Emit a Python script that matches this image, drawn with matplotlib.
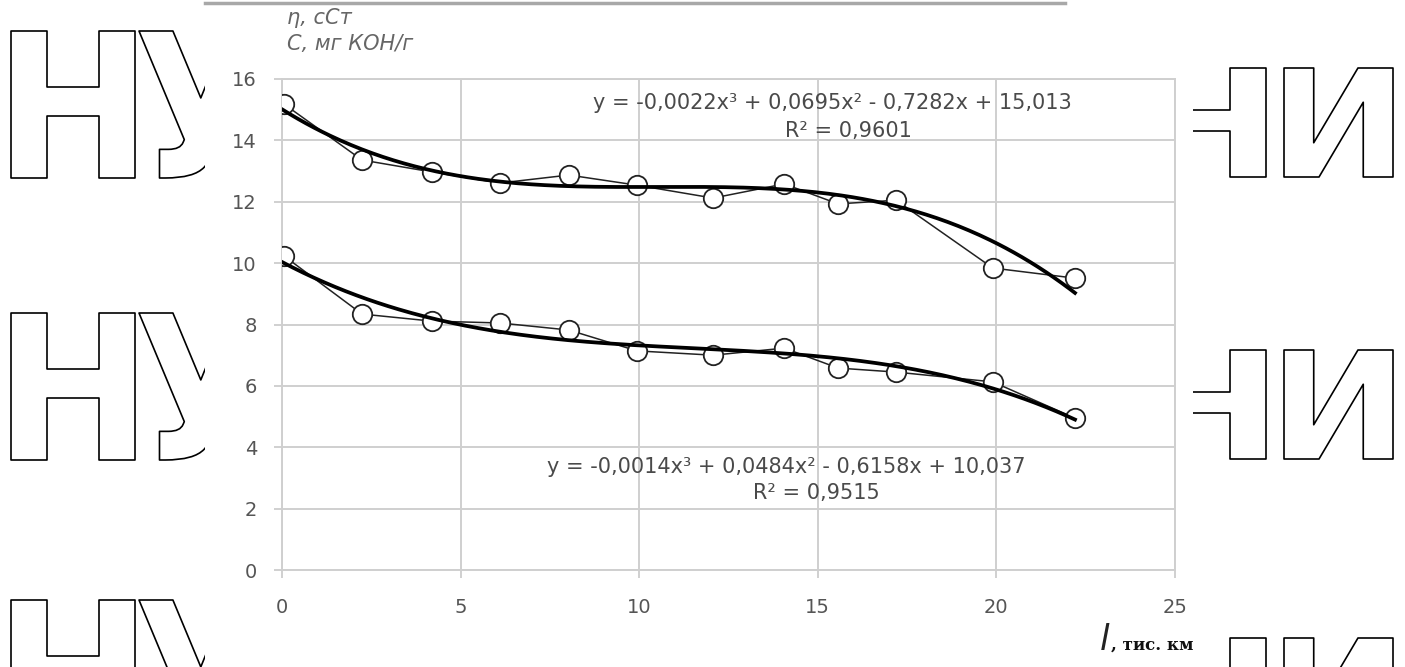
import numpy as np
import matplotlib
matplotlib.use("Agg")
import matplotlib.pyplot as plt
from matplotlib.textpath import TextPath
from matplotlib.font_manager import FontProperties
from matplotlib.patches import PathPatch, Rectangle
from matplotlib.lines import Line2D
from matplotlib.transforms import Affine2D

W, H = 1405, 667

# пробіг, тис. км
distance = [0.06, 2.24, 4.2, 6.1, 8.03, 9.94, 12.07, 14.06, 15.57, 17.19, 19.9, 22.2]
# в'язкість, сСт
viscosity = [15.18, 13.36, 12.97, 12.61, 12.87, 12.54, 12.12, 12.58, 11.93, 12.05, 9.84, 9.51]
# кислотне число, мг КОН/г
acid_number = [10.23, 8.34, 8.11, 8.05, 7.82, 7.14, 7.0, 7.23, 6.58, 6.45, 6.13, 4.95]

visc_coef = [-0.0022, 0.0695, -0.7282, 15.013]
acid_coef = [-0.0014, 0.0484, -0.6158, 10.037]
visc_eq = "y = -0,0022x³ + 0,0695x² - 0,7282x + 15,013"
visc_r2 = "R² = 0,9601"
acid_eq = "y = -0,0014x³ + 0,0484x² - 0,6158x + 10,037"
acid_r2 = "R² = 0,9515"

x_ticks = [0, 5, 10, 15, 20, 25]
y_ticks = [0, 2, 4, 6, 8, 10, 12, 14, 16]

# watermark letters: char, left, right (px), row tops, height
wm_left = [("Н", 11, 135), ("У", 139, 262)]
wm_left_rows = [31, 313, 600]
wm_left_h = 147
wm_right = [("Н", 1142, 1266), ("И", 1284, 1393)]
wm_right_rows = [68, 350, 638]
wm_right_h = 109


def add_glyph(fig, ch, x0, x1, top, height):
    tp = TextPath((0, 0), ch, size=100,
                  prop=FontProperties(family="DejaVu Sans", weight="bold"))
    ext = tp.get_extents()
    sx = (x1 - x0) / ext.width
    sy = height / ext.height
    tr = (Affine2D().translate(-ext.x0, -ext.y0).scale(sx / W, sy / H)
          .translate(x0 / W, 1 - (top + height) / H))
    fig.add_artist(PathPatch(tr.transform_path(tp), facecolor="white",
                             edgecolor="black", lw=1.2, joinstyle="round",
                             transform=fig.transFigure, zorder=-3))


fig = plt.figure(figsize=(W / 100, H / 100), dpi=100)

for top in wm_left_rows:
    for ch, x0, x1 in wm_left:
        add_glyph(fig, ch, x0, x1, top, wm_left_h)
for top in wm_right_rows:
    for ch, x0, x1 in wm_right:
        add_glyph(fig, ch, x0, x1, top, wm_right_h)

fig.add_artist(Rectangle((205 / W, 0), (1193 - 205) / W, 1, facecolor="white",
                         edgecolor="none", transform=fig.transFigure, zorder=-2))
fig.add_artist(Line2D([205 / W, 1065 / W], [1 - 3 / H, 1 - 3 / H], color="#a8a8a8",
                      lw=2.5, transform=fig.transFigure, zorder=-1))

ax = fig.add_axes([282 / W, 1 - 570 / H, (1175 - 282) / W, (570 - 79) / H])
ax.set_facecolor("none")
ax.set_xlim(0, 25)
ax.set_ylim(0, 16)
ax.set_xticks(x_ticks)
ax.set_yticks(y_ticks)
ax.grid(True, color="#cfcfcf", lw=1.4)
ax.set_axisbelow(True)
for s in ax.spines.values():
    s.set_color("#cfcfcf")
    s.set_linewidth(1.4)
ax.tick_params(axis="both", direction="out", length=6, width=1.2, color="#c8c8c8",
               labelcolor="#555555", labelsize=14)
ax.tick_params(axis="y", pad=12)
ax.tick_params(axis="x", pad=14)

xs = np.array(distance)
xt = np.linspace(0, xs[-1], 300)
for vals, coef in [(viscosity, visc_coef), (acid_number, acid_coef)]:
    ax.plot(distance, vals, color="#222222", lw=1.1, marker="o", ms=14,
            mfc="white", mec="#222222", mew=1.3, zorder=3)
    ax.plot(xt, np.polyval(coef, xt), color="black", lw=2.7, zorder=4)

eq_style = dict(color="#4a4a4a", fontsize=15, ha="center", va="center")
ax.text(15.4, 15.22, visc_eq, **eq_style)
ax.text(15.87, 14.3, visc_r2, **eq_style)
ax.text(14.13, 3.36, acid_eq, **eq_style)
ax.text(14.95, 2.51, acid_r2, **eq_style)

fig.text(287 / W, 1 - 18 / H, "η, сСт", color="#666666", fontsize=15,
         style="italic", ha="left", va="center")
fig.text(287 / W, 1 - 44 / H, "С, мг КОН/г", color="#666666", fontsize=15,
         style="italic", ha="left", va="center")
fig.text(1100 / W, 1 - 650 / H, "l", color="#222222", fontsize=25,
         style="italic", ha="left", va="baseline")
fig.text(1111 / W, 1 - 650 / H, ", тис. км", color="#111111", fontsize=12,
         family="DejaVu Serif", weight="bold", ha="left", va="baseline")

fig.savefig("out.png", dpi=100)
